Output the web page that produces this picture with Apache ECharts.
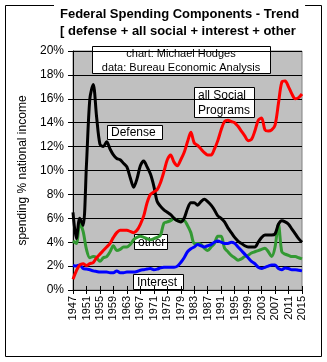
<!DOCTYPE html>
<html><head><meta charset="utf-8">
<script src="https://cdn.jsdelivr.net/npm/echarts@6/dist/echarts.min.js"></script>
<style>html,body{margin:0;padding:0;background:#fff}#c{width:327px;height:362px}</style>
</head><body><div id="c"></div>
<script>
const years = [];
for (let y = 1947; y <= 2015; y++) years.push(String(y));

const defense = [6.5,4.3,6.0,5.4,10.5,16.0,17.2,14.5,12.2,12.0,12.4,11.8,11.3,11.0,10.9,10.6,10.3,9.4,8.6,9.3,10.4,10.8,10.3,9.7,8.7,7.4,7.0,6.7,6.5,6.3,6.0,5.8,5.7,6.0,6.8,7.3,7.3,7.1,7.4,7.6,7.4,7.1,6.7,6.2,6.0,5.7,5.2,4.8,4.4,4.1,3.9,3.7,3.6,3.6,3.6,4.0,4.4,4.6,4.6,4.6,4.7,5.5,5.8,5.7,5.5,5.1,4.7,4.3,4.0];
const social = [0.9,1.6,2.1,2.2,2.05,2.2,2.3,2.7,3.0,3.3,3.6,3.9,4.4,4.8,5.0,5.0,5.0,4.9,4.8,5.0,5.5,6.2,7.3,8.0,8.2,8.4,9.0,9.9,10.9,11.3,10.7,10.4,10.9,11.5,12.4,13.2,12.3,12.1,11.8,11.5,11.3,11.3,11.8,12.5,13.4,14.1,14.2,14.1,14.0,13.7,13.3,12.9,12.5,12.6,13.3,14.2,14.4,13.4,13.3,13.4,13.8,15.6,17.4,17.5,17.0,16.4,16.0,16.1,16.4];
const other = [4.1,3.9,5.6,4.9,3.4,2.7,2.8,2.7,2.4,2.7,2.8,3.2,3.7,3.3,3.4,3.6,3.6,3.8,4.2,4.4,4.5,4.4,4.3,4.2,4.3,4.4,4.6,5.6,5.7,5.8,6.0,5.8,5.8,5.8,5.4,4.8,3.9,3.9,3.8,3.5,3.3,3.6,3.9,4.5,4.5,3.5,3.2,2.9,2.7,2.5,2.6,2.8,2.9,3.1,3.2,3.3,3.4,3.5,3.2,2.8,3.6,5.5,3.2,3.0,2.9,2.8,2.8,2.7,2.6];
const interest = [2.05,2.0,2.1,1.8,1.75,1.7,1.6,1.55,1.5,1.5,1.5,1.45,1.45,1.6,1.45,1.45,1.5,1.5,1.5,1.55,1.65,1.7,1.75,1.8,1.7,1.75,1.85,1.9,1.9,1.9,1.9,2.0,2.3,2.7,3.2,3.45,3.6,3.8,3.7,3.6,3.7,3.8,4.0,4.1,4.0,3.9,3.9,4.0,3.9,3.6,3.3,3.0,2.7,2.4,2.2,1.9,1.8,1.9,2.0,2.1,2.1,1.8,1.7,1.85,1.8,1.7,1.7,1.65,1.6];

const yTicks = [0,2,4,6,8,10,12,14,16,18,20];
const titleLines = ['Federal Spending Components - Trend', '[ defense + all social + interest + other'];
const creditLines = ['chart: Michael Hodges', 'data: Bureau Economic Analysis'];

const FONT = '"Liberation Sans", Arial, sans-serif';
const chart = echarts.init(document.getElementById('c'), null, {renderer: 'canvas'});

function box(x, y, w, h, text, align, size, lh) {
  return {
    type: 'group', z: 50,
    children: [
      {type: 'rect', shape: {x: x + 0.5, y: y + 0.5, width: w, height: h}, style: {fill: '#fff', stroke: '#000', lineWidth: 1}},
      {type: 'text', x: align === 'left' ? x + 4 : x + w / 2, y: y + h / 2 + 1,
       style: {text: text, fill: '#000', font: (size || 12) + 'px ' + FONT, textAlign: align === 'left' ? 'left' : 'center', textVerticalAlign: 'middle', lineHeight: lh || 15}}
    ]
  };
}

const lineSeries = (name, data, color) => ({
  name, type: 'line', data, smooth: 0.3, symbol: 'none',
  lineStyle: {color, width: 3}, itemStyle: {color}
});

chart.setOption({
  animation: false,
  backgroundColor: '#fff',
  title: {
    text: titleLines.join('\n'),
    left: 54, top: 5,
    backgroundColor: '#fff',
    padding: [1, 6, 2, 6],
    textStyle: {fontFamily: FONT, fontWeight: 'bold', fontSize: 13, color: '#000', lineHeight: 17}
  },
  grid: {left: 73, right: 25, top: 51, bottom: 72, show: true, backgroundColor: '#c0c0c0', borderColor: '#808080', borderWidth: 1},
  xAxis: [{
    type: 'category', data: years, boundaryGap: false,
    axisLine: {lineStyle: {color: '#000', width: 1}},
    axisTick: {show: true, interval: 3, length: 4, lineStyle: {color: '#000'}},
    axisLabel: {interval: 3, rotate: 90, fontFamily: FONT, fontSize: 11, color: '#000', margin: 6},
    splitLine: {show: false}
  }, {
    type: 'category', data: years, boundaryGap: false, position: 'bottom',
    axisLine: {show: false},
    axisTick: {show: true, inside: true, interval: 3, length: 4, lineStyle: {color: '#000'}},
    axisLabel: {show: false}, splitLine: {show: false}
  }],
  yAxis: {
    type: 'value', min: 0, max: 20, interval: 2,
    name: 'spending % national income', nameLocation: 'middle', nameGap: 37,
    nameTextStyle: {fontFamily: FONT, fontSize: 12, color: '#000'},
    axisLine: {show: true, lineStyle: {color: '#000'}},
    axisTick: {show: true, length: 5, lineStyle: {color: '#000'}},
    axisLabel: {formatter: v => yTicks.includes(v) ? v + '%' : '', fontFamily: FONT, fontSize: 12, color: '#000', margin: 9},
    splitLine: {show: true, lineStyle: {color: '#000', width: 1}}
  },
  series: [
    lineSeries('other', other, '#339933'),
    lineSeries('Interest', interest, '#0000ff'),
    lineSeries('Defense', defense, '#000000'),
    lineSeries('all Social Programs', social, '#ff0000')
  ],
  graphic: [
    {type: 'rect', z: -10, silent: true, shape: {x: 5.5, y: 5.5, width: 316, height: 351}, style: {fill: 'none', stroke: '#000', lineWidth: 1}},
    box(92, 46, 178, 27, creditLines.join('\n'), 'center', 11, 14),
    box(107, 125, 55, 14, 'Defense', 'left', 12, 14),
    box(194, 87, 60, 30, 'all Social\nPrograms', 'left', 12, 15),
    box(134, 234, 33, 15, 'other', 'left', 12, 14),
    box(133, 274, 50, 15, 'Interest', 'left', 12, 14)
  ]
});
</script></body></html>
